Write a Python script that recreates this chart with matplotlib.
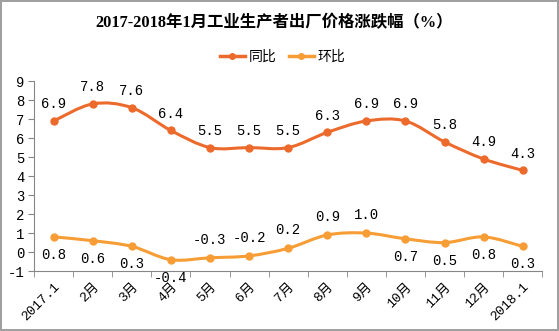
import numpy as np
import matplotlib
matplotlib.use("Agg")
import matplotlib.pyplot as plt
from matplotlib.path import Path
from matplotlib.patches import PathPatch
from matplotlib.lines import Line2D

months = ['2017.1', '2月', '3月', '4月', '5月', '6月', '7月', '8月', '9月',
          '10月', '11月', '12月', '2018.1']
yoy = [6.9, 7.8, 7.6, 6.4, 5.5, 5.5, 5.5, 6.3, 6.9, 6.9, 5.8, 4.9, 4.3]
mom = [0.8, 0.6, 0.3, -0.4, -0.3, -0.2, 0.2, 0.9, 1.0, 0.7, 0.5, 0.8, 0.3]
# where the 环比 labels sit: 1 above, -1 below
mom_side = [-1, -1, -1, -1, 1, 1, 1, 1, 1, -1, -1, -1, -1]

c_yoy = '#EC6A2B'
c_mom = '#F79D35'
num_font = ['Liberation Mono', 'Noto Sans CJK SC']


def smooth_path(x, y):
    # catmull-rom segments as cubic bezier curves
    pts = np.column_stack([x, y]).astype(float)
    ext = np.vstack([pts[0], pts, pts[-1]])
    verts = [pts[0]]
    codes = [Path.MOVETO]
    for i in range(len(pts) - 1):
        p0, p1, p2, p3 = ext[i], ext[i + 1], ext[i + 2], ext[i + 3]
        verts += [p1 + (p2 - p0) / 6, p2 - (p3 - p1) / 6, p2]
        codes += [Path.CURVE4] * 3
    return Path(verts, codes)


fig = plt.figure(figsize=(5.59, 3.31), dpi=100)
fig.patch.set_edgecolor('#A0A0A0')
fig.patch.set_linewidth(1.5)
ax = fig.add_axes([0.061, 0.181, 0.909, 0.574])

x = np.arange(len(months))
for vals, col in ((yoy, c_yoy), (mom, c_mom)):
    ax.add_patch(PathPatch(smooth_path(x, vals), fill=False, edgecolor=col,
                           lw=2.2, capstyle='round', zorder=2))
    ax.plot(x, vals, 'o', color=col, ms=5, zorder=3)

for i, v in enumerate(yoy):
    ax.annotate(f'{v:.1f}', (i, v), xytext=(0, 12), textcoords='offset points',
                ha='center', va='center', fontsize=10, family=num_font)
for i, v in enumerate(mom):
    ax.annotate(f'{v:.1f}', (i, v), xytext=(0, 13 * mom_side[i]),
                textcoords='offset points', ha='center', va='center',
                fontsize=10, family=num_font)

ax.set_xlim(-0.5, len(months) - 0.5)
ax.set_ylim(-1, 9)
ax.set_yticks(range(-1, 10))
ax.set_yticklabels([str(t) for t in range(-1, 10)], family=num_font, fontsize=10)
ax.set_xticks(x)
ax.set_xticklabels(months, rotation=45, ha='right', rotation_mode='anchor',
                   family=num_font, fontsize=9.5)
ax.tick_params(axis='x', length=0, pad=7)
ax.set_xticks(np.arange(-0.5, len(months)), minor=True)
ax.tick_params(axis='x', which='minor', length=4, color='#868686')
ax.tick_params(axis='y', length=4, color='#868686', pad=3)
for s in ('top', 'right'):
    ax.spines[s].set_visible(False)
for s in ('left', 'bottom'):
    ax.spines[s].set_color('#868686')

fig.text(0.49, 0.93, '2017-2018年1月工业生产者出厂价格涨跌幅（%）', ha='center',
         va='center', fontsize=11.8, fontweight='bold',
         family=['Liberation Serif', 'Noto Sans CJK SC'])

handles = [Line2D([], [], color=c_yoy, lw=2.5, marker='o', ms=4),
           Line2D([], [], color=c_mom, lw=2.5, marker='o', ms=4)]
fig.legend(handles, ['同比', '环比'], loc='center', bbox_to_anchor=(0.505, 0.828),
           ncol=2, frameon=False, handlelength=1.8, columnspacing=0.9,
           handletextpad=0.25, prop={'family': 'Noto Sans CJK SC', 'size': 10})

fig.savefig('out.png', dpi=100, edgecolor=fig.get_edgecolor())
